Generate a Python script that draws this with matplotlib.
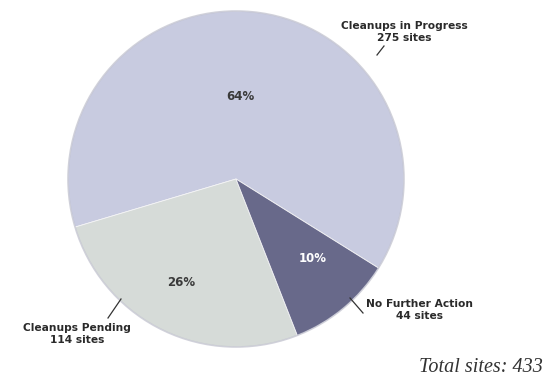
import matplotlib
matplotlib.use("Agg")
import matplotlib.pyplot as plt

# Site status counts
categories = ["Cleanups in Progress", "Cleanups Pending", "No Further Action"]
sites = [275, 114, 44]
pct_labels = ["64%", "26%", "10%"]
total_sites = 433

colors = ["#c8cbe0", "#d6dbd8", "#68698a"]
pct_colors = ["#3a3a3a", "#3a3a3a", "#ffffff"]

W, H = 546, 381
fig = plt.figure(figsize=(W / 100, H / 100), dpi=100)
ax = fig.add_axes([0, 0, 1, 1])

cx, cy, r = 236, H - 179, 168

wedges, _ = ax.pie(sites, colors=colors, startangle=328, counterclock=True,
                   center=(cx, cy), radius=r, frame=True,
                   wedgeprops=dict(edgecolor="#f4f4f6", linewidth=0.6))
ax.set_xlim(0, W)
ax.set_ylim(0, H)
ax.set_aspect("equal")
ax.axis("off")

# soft rim around the disc
circle = plt.Circle((cx, cy), r, fill=False, edgecolor="#b9bac8", linewidth=1.2, alpha=0.6)
ax.add_patch(circle)

font = dict(family="DejaVu Sans", fontweight="bold")

# percentage labels inside slices
pct_pos = [(240, H - 97), (181, H - 283), (313, H - 258)]
for (x, y), t, c in zip(pct_pos, pct_labels, pct_colors):
    ax.text(x, y, t, ha="center", va="center", fontsize=8.5, color=c, **font)

# outer category labels with leader lines
label_pos = [(404, H - 32), (77, H - 334), (419, H - 310)]
leaders = [((384, H - 46), (377, H - 55)),
           ((108, H - 318), (121, H - 299)),
           ((363, H - 313), (350, H - 298))]
for (lx, ly), (p1, p2), name, n in zip(label_pos, leaders, categories, sites):
    ax.text(lx, ly, f"{name}\n{n} sites", ha="center", va="center",
            fontsize=7.7, color="#2a2a2a", linespacing=1.2, **font)
    ax.plot([p1[0], p2[0]], [p1[1], p2[1]], color="#333333", linewidth=0.9)

ax.text(543, H - 367, f"Total sites: {total_sites}", ha="right", va="center",
        fontsize=14.5, fontstyle="italic", family="Liberation Serif", color="#333333")

fig.savefig("out.png", dpi=100)
